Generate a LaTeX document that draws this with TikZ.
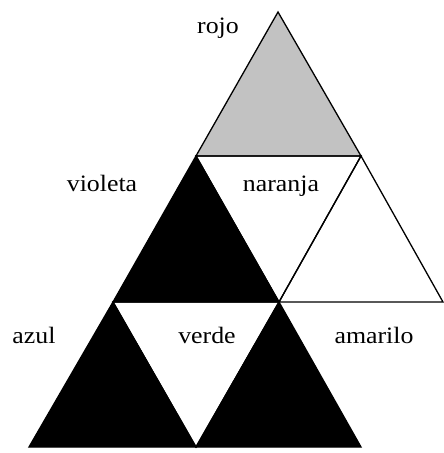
\documentclass[tikz,border=0pt]{standalone}
\usepackage{fontspec}
\setmainfont{Liberation Serif}
\begin{document}
\begin{tikzpicture}[x=1pt,y=-1pt,
  tri/.style={draw=black,line width=1.3pt,line join=miter},
  lbl/.style={font=\fontsize{23.5}{28}\selectfont,inner sep=0pt,anchor=base},
  dark/.style={tri,fill=black},
  stip/.style={tri,fill=black!24},
  blank/.style={tri,fill=white}]
\useasboundingbox (0,0) rectangle (444,453);
% lattice points
\coordinate (A) at (278,12);
\coordinate (B1) at (196,156); \coordinate (B2) at (361,156);
\coordinate (C1) at (113,302); \coordinate (C2) at (279,302); \coordinate (C3) at (443,302);
\coordinate (D1) at (29,447); \coordinate (D2) at (196,447); \coordinate (D3) at (361,447);
% triangles
\draw[stip] (A) -- (B2) -- (B1) -- cycle;
\draw[dark] (B1) -- (C2) -- (C1) -- cycle;
\draw[blank] (B2) -- (C3) -- (C2) -- cycle;
\draw[tri] (B1) -- (B2) -- (C2) -- cycle;
\draw[dark] (C1) -- (D2) -- (D1) -- cycle;
\draw[dark] (C2) -- (D3) -- (D2) -- cycle;
\draw[tri] (C1) -- (C2) -- (D2) -- cycle;
% labels
\node[lbl] (rojo) at (218,33) {\scalebox{1.1}[1]{rojo}};
\node[lbl] (violeta) at (102,191) {\scalebox{1.1}[1]{violeta}};
\node[lbl] (naranja) at (281,191) {\scalebox{1.1}[1]{naranja}};
\node[lbl] (azul) at (34,343) {\scalebox{1.1}[1]{azul}};
\node[lbl] (verde) at (207,343) {\scalebox{1.1}[1]{verde}};
\node[lbl] (amarilo) at (374,343) {\scalebox{1.1}[1]{amarilo}};
\end{tikzpicture}
\end{document}
